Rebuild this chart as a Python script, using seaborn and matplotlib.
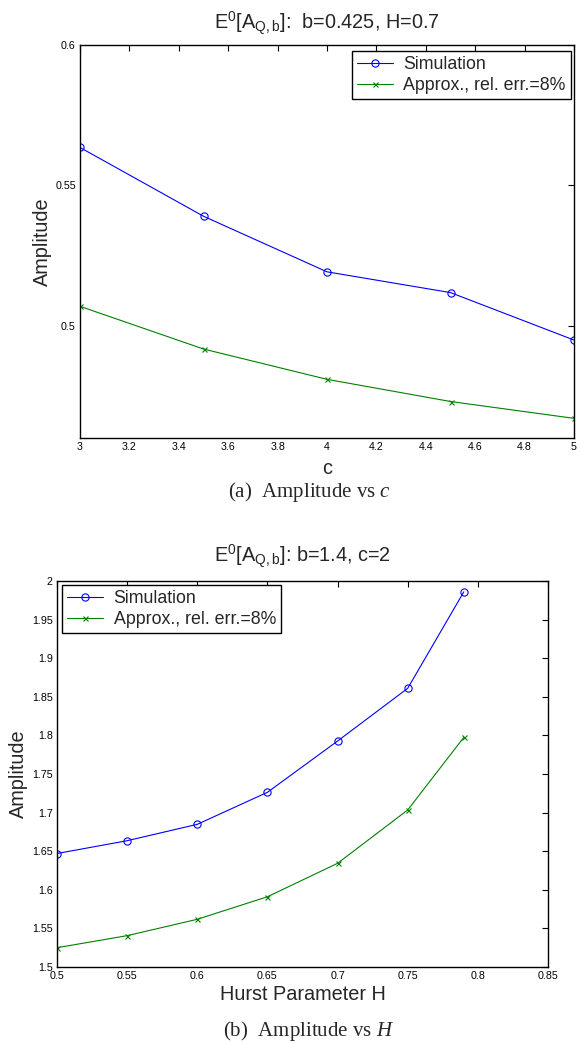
import numpy as np
import pandas as pd
import matplotlib
matplotlib.use("Agg")
import matplotlib.pyplot as plt
import seaborn as sns

# ---- data ----
c_vals = [3.0, 3.5, 4.0, 4.5, 5.0]
sim_c = [0.5635, 0.5390, 0.5192, 0.5118, 0.4949]
approx_c = [0.5069, 0.4917, 0.4809, 0.4730, 0.4670]

h_vals = [0.50, 0.55, 0.60, 0.65, 0.70, 0.75, 0.79]
sim_h = [1.647, 1.6636, 1.6848, 1.7263, 1.7927, 1.861, 1.986]
approx_h = [1.525, 1.5406, 1.5618, 1.591, 1.6343, 1.7034, 1.7975]

c_ticks = [3, 3.2, 3.4, 3.6, 3.8, 4, 4.2, 4.4, 4.6, 4.8, 5]
c_yticks = [0.5, 0.55, 0.6]
h_ticks = [0.5, 0.55, 0.6, 0.65, 0.7, 0.75, 0.8, 0.85]
h_yticks = [1.5, 1.55, 1.6, 1.65, 1.7, 1.75, 1.8, 1.85, 1.9, 1.95, 2]

labels = ["Simulation", "Approx., rel. err.=8%"]
BLUE = "#0000ff"
GREEN = "#008000"

sns.set_style("white")
plt.rcParams["font.family"] = ["Liberation Sans", "DejaVu Sans"]
plt.rcParams["mathtext.fontset"] = "custom"
plt.rcParams["mathtext.rm"] = "Liberation Sans"
# italic math is only used by the serif captions
plt.rcParams["mathtext.it"] = "Liberation Serif:italic"

W, H = 581, 1044
LBL = 14.3
fig = plt.figure(figsize=(W / 100, H / 100), dpi=100)
ax1 = fig.add_axes([80 / W, 1 - 438 / H, 494 / W, 393 / H])
ax2 = fig.add_axes([57 / W, 1 - 967 / H, 491 / W, 386 / H])


def fmt(v):
    return f"{v:g}"


def draw(ax, x, sim, approx):
    df_sim = pd.DataFrame({"x": x, "y": sim})
    df_app = pd.DataFrame({"x": x, "y": approx})
    sns.lineplot(data=df_sim, x="x", y="y", ax=ax, color=BLUE, marker="o",
                 markersize=5.2, markerfacecolor="none", markeredgecolor=BLUE,
                 markeredgewidth=0.8, linewidth=0.8, label=labels[0])
    sns.lineplot(data=df_app, x="x", y="y", ax=ax, color=GREEN, marker="x",
                 markersize=3.6, markeredgecolor=GREEN, markeredgewidth=0.8,
                 linewidth=0.8, label=labels[1])


def style(ax, xt, yt):
    ax.set_xticks(xt)
    ax.set_xticklabels([fmt(v) for v in xt])
    ax.set_yticks(yt)
    ax.set_yticklabels([fmt(v) for v in yt])
    ax.tick_params(direction="in", length=4, width=0.8, labelsize=7.7,
                   top=True, right=True, colors="black", pad=3)
    for sp in ax.spines.values():
        sp.set_color("black")
        sp.set_linewidth(1.0)
        sp.set_visible(True)


def legend(ax, loc, anchor):
    leg = ax.legend(loc=loc, bbox_to_anchor=anchor, borderaxespad=0,
                    fontsize=12.8, frameon=True, fancybox=False,
                    edgecolor="black", framealpha=1, handlelength=2.0,
                    borderpad=0.3, labelspacing=0.2, handletextpad=0.6)
    leg.get_frame().set_linewidth(1.0)


# ---- top panel: amplitude vs c ----
draw(ax1, c_vals, sim_c, approx_c)
ax1.set_xlim(3, 5)
ax1.set_ylim(0.46, 0.6)
style(ax1, c_ticks, c_yticks)
ax1.set_xlabel("c", fontsize=LBL, labelpad=5)
ax1.set_ylabel("Amplitude", fontsize=LBL)
ax1.yaxis.set_label_coords((52 - 80) / 494, 0.5)
ax1.set_title(r"E$^{0}$[A$_{\mathrm{Q,b}}$]:  b=0.425, H=0.7", fontsize=LBL, pad=12)
legend(ax1, "upper right", ((571 - 80) / 494, (438 - 51) / 393))

# ---- bottom panel: amplitude vs H ----
draw(ax2, h_vals, sim_h, approx_h)
ax2.set_xlim(0.5, 0.85)
ax2.set_ylim(1.5, 2.0)
style(ax2, h_ticks, h_yticks)
ax2.set_xlabel("Hurst Parameter H", fontsize=LBL, labelpad=3)
ax2.set_ylabel("Amplitude", fontsize=LBL)
ax2.yaxis.set_label_coords((28 - 57) / 491, 0.5)
ax2.set_title(r"E$^{0}$[A$_{\mathrm{Q,b}}$]: b=1.4, c=2", fontsize=LBL, pad=14)
legend(ax2, "upper left", ((62 - 57) / 491, (967 - 585) / 386))

# ---- captions ----
serif = ["Liberation Serif", "DejaVu Serif"]
cap = 15
fig.text(309 / W, 1 - 492 / H, r"(a)  Amplitude vs $c$", family=serif,
         fontsize=cap, ha="center", va="center")
fig.text(309 / W, 1 - 1031 / H, r"(b)  Amplitude vs $H$", family=serif,
         fontsize=cap, ha="center", va="center")

plt.savefig("out.png", dpi=100)
plt.close()
